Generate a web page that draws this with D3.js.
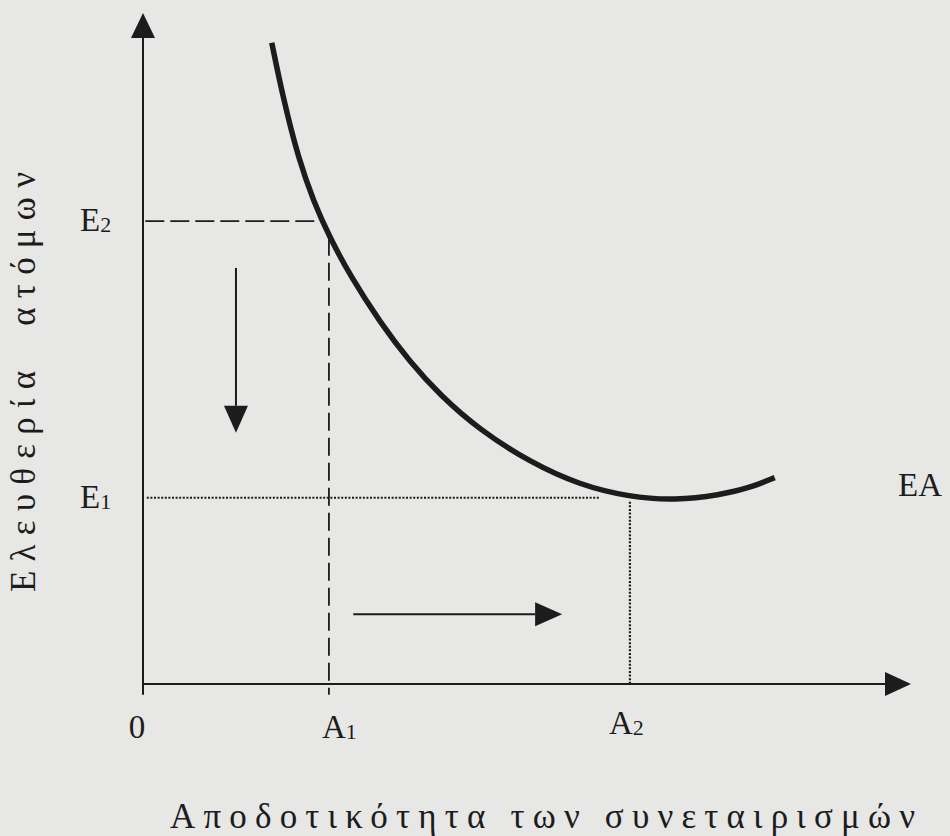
<!DOCTYPE html>
<html lang="el">
	<head>
		<meta charset="utf-8">
		<title>Ελευθερία ατόμων / Αποδοτικότητα</title>
		<script src="https://cdn.jsdelivr.net/npm/d3@7"></script>
		<style>
			body { margin: 0; background: #e7e7e5; }
			svg text { font-family: "Liberation Serif", "Times New Roman", "DejaVu Serif", serif; fill: #1c1c1c; }
		</style>
	</head>
	<body>
		<script>
			//Width and height
			var w = 950;
			var h = 836;

			//curve EA (efficiency -> freedom)
			var curveX = [16.9, 18.4, 20.4, 22.4, 24.4, 27.2, 31.1, 35.0, 39.0, 44.2, 50.8, 57.3, 63.9, 69.8, 75.7, 79.7, 82.9];
			var curveY = [95.7, 87.4, 78.4, 72.0, 66.9, 60.9, 54.0, 48.1, 43.1, 37.9, 33.1, 29.7, 27.9, 27.4, 28.2, 29.3, 30.8];

			//marked levels
			var levelNames = ["E", "E"];
			var levelSubs = ["2", "1"];
			var levelValues = [69.1, 27.8];
			var pointNames = ["A", "A"];
			var pointSubs = ["1", "2"];
			var pointValues = [24.4, 63.9];

			//direction arrows [x1, y1, x2, y2]
			var downArrow = [12.2, 62.1, 12.2, 37.5];
			var rightArrow = [27.6, 10.4, 55.0, 10.4];

			var xTitle = "Αποδοτικότητα των συνεταιρισμών";
			var yTitle = "Ελευθερία  ατόμων";
			var curveName = "EA";

			var x = d3.scaleLinear().domain([0, 100]).range([143, 905]);
			var y = d3.scaleLinear().domain([0, 100]).range([684, 14]);

			var svg = d3.select("body")
						.append("svg")
						.attr("width", w)
						.attr("height", h);

			svg.append("rect")
			   .attr("width", w)
			   .attr("height", h)
			   .attr("fill", "#e7e7e5");

			var ink = "#1c1c1c";

			//axes
			svg.append("line")
			   .attr("x1", x(0)).attr("y1", y(-1.6))
			   .attr("x2", x(0)).attr("y2", y(97))
			   .attr("stroke", ink).attr("stroke-width", 2);
			svg.append("path")
			   .attr("d", "M" + x(0) + "," + (y(100) - 1) + "L" + (x(0) - 12) + "," + (y(100) + 24) + "L" + (x(0) + 12) + "," + (y(100) + 24) + "Z")
			   .attr("fill", ink);
			svg.append("line")
			   .attr("x1", x(0) - 1).attr("y1", y(0))
			   .attr("x2", x(100) - 20).attr("y2", y(0))
			   .attr("stroke", ink).attr("stroke-width", 2);
			svg.append("path")
			   .attr("d", "M" + (x(100) + 6) + "," + y(0) + "L" + (x(100) - 20) + "," + (y(0) - 12) + "L" + (x(100) - 20) + "," + (y(0) + 12) + "Z")
			   .attr("fill", ink);

			//E2 / A1 dashed guides
			svg.append("line")
			   .attr("x1", x(0.3)).attr("y1", y(levelValues[0]))
			   .attr("x2", x(23.0)).attr("y2", y(levelValues[0]))
			   .attr("stroke", ink).attr("stroke-width", 1.8)
			   .attr("stroke-dasharray", "19,6");
			svg.append("line")
			   .attr("x1", x(pointValues[0])).attr("y1", y(66.6))
			   .attr("x2", x(pointValues[0])).attr("y2", y(-1.6))
			   .attr("stroke", ink).attr("stroke-width", 1.8)
			   .attr("stroke-dasharray", "18,7");

			//E1 / A2 dotted guides
			svg.append("line")
			   .attr("x1", x(0.5)).attr("y1", y(levelValues[1]))
			   .attr("x2", x(60.0)).attr("y2", y(levelValues[1]))
			   .attr("stroke", ink).attr("stroke-width", 2.2)
			   .attr("stroke-dasharray", "2,1.6");
			svg.append("line")
			   .attr("x1", x(pointValues[1])).attr("y1", y(27.2))
			   .attr("x2", x(pointValues[1])).attr("y2", y(0))
			   .attr("stroke", ink).attr("stroke-width", 2.2)
			   .attr("stroke-dasharray", "2,1.6");

			//the curve
			var line = d3.line()
						 .x(function(d) { return x(d[0]); })
						 .y(function(d) { return y(d[1]); })
						 .curve(d3.curveBasis);
			svg.append("path")
			   .datum(d3.zip(curveX, curveY))
			   .attr("d", line)
			   .attr("fill", "none")
			   .attr("stroke", ink)
			   .attr("stroke-width", 5.5);

			//arrows
			function arrow(a) {
				var x1 = x(a[0]), y1 = y(a[1]), x2 = x(a[2]), y2 = y(a[3]);
				var ang = Math.atan2(y2 - y1, x2 - x1);
				var len = 27, half = 12;
				var bx = x2 - len * Math.cos(ang), by = y2 - len * Math.sin(ang);
				svg.append("line")
				   .attr("x1", x1).attr("y1", y1)
				   .attr("x2", bx).attr("y2", by)
				   .attr("stroke", ink).attr("stroke-width", 2);
				svg.append("path")
				   .attr("d", "M" + x2 + "," + y2 +
						"L" + (bx - half * Math.sin(ang)) + "," + (by + half * Math.cos(ang)) +
						"L" + (bx + half * Math.sin(ang)) + "," + (by - half * Math.cos(ang)) + "Z")
				   .attr("fill", ink);
			}
			arrow(downArrow);
			arrow(rightArrow);

			//level labels on the y side
			levelValues.forEach(function(v, i) {
				var t = svg.append("text")
						   .attr("x", 80)
						   .attr("y", y(v) + 10)
						   .attr("font-size", "33px");
				t.append("tspan").text(levelNames[i]);
				t.append("tspan").attr("font-size", "22px").attr("dy", 1).text(levelSubs[i]);
			});

			//point labels on the x side
			pointValues.forEach(function(v, i) {
				var t = svg.append("text")
						   .attr("x", x(v) - 7 - i * 14)
						   .attr("y", 738 - i * 4)
						   .attr("font-size", "33px");
				t.append("tspan").text(pointNames[i]);
				t.append("tspan").attr("font-size", "22px").attr("dy", 1).text(pointSubs[i]);
			});

			svg.append("text")
			   .attr("x", x(0) - 6)
			   .attr("y", 738)
			   .attr("text-anchor", "middle")
			   .attr("font-size", "33px")
			   .text("0");

			svg.append("text")
			   .attr("x", 898)
			   .attr("y", 496)
			   .attr("font-size", "33px")
			   .text(curveName);

			//axis titles
			svg.append("text")
			   .attr("x", 170)
			   .attr("y", 828)
			   .attr("font-size", "35px")
			   .attr("textLength", 745)
			   .attr("lengthAdjust", "spacing")
			   .text(xTitle);

			svg.append("text")
			   .attr("transform", "translate(35,592) rotate(-90)")
			   .attr("font-size", "35px")
			   .attr("textLength", 420)
			   .attr("lengthAdjust", "spacing")
			   .style("white-space", "pre")
			   .text(yTitle);
		</script>
	</body>
</html>
